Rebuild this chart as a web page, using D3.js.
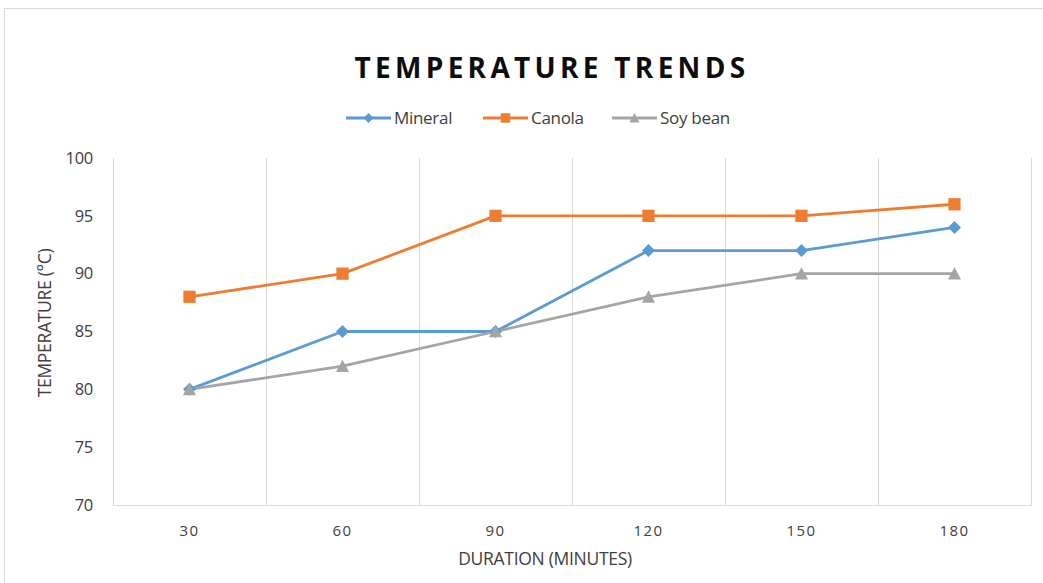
<!DOCTYPE html>
<html><head><meta charset="utf-8">
<script src="https://cdn.jsdelivr.net/npm/d3@7"></script>
<style>body{margin:0;background:#fff}svg{display:block}</style>
</head><body>
<script>
const categories = ["30","60","90","120","150","180"];
const mineral = [80,85,85,92,92,94];
const canola = [88,90,95,95,95,96];
const soybean = [80,82,85,88,90,90];
const yTicks = [70,75,80,85,90,95,100];
const seriesNames = ["Mineral","Canola","Soy bean"];
const seriesColors = ["#5B9BD5","#ED7D31","#A5A5A5"];
const seriesValues = [mineral, canola, soybean];

const diamond = {draw(ctx,size){const r=Math.sqrt(size)/2;ctx.moveTo(0,-r);ctx.lineTo(r,0);ctx.lineTo(0,r);ctx.lineTo(-r,0);ctx.closePath();}};
const triangle = {draw(ctx,size){const s=Math.sqrt(size);ctx.moveTo(0,-s*0.5);ctx.lineTo(s*0.5,s*0.45);ctx.lineTo(-s*0.5,s*0.45);ctx.closePath();}};
const seriesShapes = [diamond, d3.symbolSquare, triangle];

const W=1043,H=583;
const FONT="Open Sans, sans-serif";
const svg=d3.select("body").append("svg").attr("width",W).attr("height",H);
svg.append("rect").attr("x",4.5).attr("y",8.5).attr("width",W+10).attr("height",H+10).attr("fill","#fff").attr("stroke","#d9d9d9");

const m={l:113,r:1031,t:158,b:505};
const x=d3.scaleBand().domain(categories).range([m.l,m.r]);
const y=d3.scaleLinear().domain([70,100]).range([m.b,m.t]);

const edges=categories.map(c=>x(c)).concat([x(categories[categories.length-1])+x.bandwidth()]);
svg.append("g").selectAll("line").data(edges).join("line")
 .attr("x1",d=>Math.round(d)+0.5).attr("x2",d=>Math.round(d)+0.5)
 .attr("y1",m.t).attr("y2",m.b).attr("stroke","#d9d9d9").attr("stroke-width",1);
svg.append("line").attr("x1",m.l).attr("x2",m.r+1).attr("y1",m.b+0.5).attr("y2",m.b+0.5).attr("stroke","#d9d9d9");

const ya=svg.append("g").attr("transform",`translate(${m.l-20},0)`).call(d3.axisLeft(y).tickValues(yTicks).tickSize(0).tickPadding(0));
ya.select(".domain").remove();
ya.selectAll("text").attr("font-family",FONT).attr("font-size",16.5).attr("fill","#404040").attr("letter-spacing","-0.3px");

const xa=svg.append("g").attr("transform",`translate(0,${m.b+12})`).call(d3.axisBottom(x).tickSize(0).tickPadding(8));
xa.select(".domain").remove();
xa.selectAll("text").attr("font-family",FONT).attr("font-size",15).attr("fill","#404040").attr("letter-spacing","1.5px");

svg.append("text").attr("x",545).attr("y",565).attr("text-anchor","middle")
 .attr("font-family",FONT).attr("font-size",17.5).attr("fill","#404040").attr("letter-spacing","-0.3px").text("DURATION (MINUTES)");
svg.append("text").attr("transform",`translate(51,${323}) rotate(-90)`).attr("text-anchor","middle")
 .attr("font-family",FONT).attr("font-size",17.5).attr("fill","#404040").attr("letter-spacing","-0.3px").text("TEMPERATURE (°C)");

svg.append("text").attr("x",552).attr("y",78).attr("text-anchor","middle")
 .attr("font-family",FONT).attr("font-weight","bold").attr("font-size",28).attr("letter-spacing","4.3px").attr("fill","#0d0d0d").text("TEMPERATURE TRENDS");

const line=d3.line().x((d,i)=>x(categories[i])+x.bandwidth()/2).y(d=>y(d));
const symSizes=[170,150,170];
seriesValues.forEach((vals,si)=>{
  svg.append("path").datum(vals).attr("d",line).attr("fill","none").attr("stroke",seriesColors[si]).attr("stroke-width",2.8).attr("stroke-linejoin","round");
});
seriesValues.forEach((vals,si)=>{
  svg.append("g").selectAll("path").data(vals).join("path")
   .attr("transform",(d,i)=>`translate(${x(categories[i])+x.bandwidth()/2},${y(d)})`)
   .attr("d",d3.symbol().type(seriesShapes[si]).size(symSizes[si])).attr("fill",seriesColors[si]);
});

const legX=[346,483,612];
seriesNames.forEach((n,i)=>{
  const g=svg.append("g").attr("transform",`translate(${legX[i]},118)`);
  g.append("line").attr("x1",0).attr("x2",45).attr("stroke",seriesColors[i]).attr("stroke-width",2.8);
  g.append("path").attr("transform","translate(22.5,0)").attr("d",d3.symbol().type(seriesShapes[i]).size(symSizes[i]*0.6)).attr("fill",seriesColors[i]);
  g.append("text").attr("x",48).attr("y",6).attr("font-family",FONT).attr("font-size",17).attr("fill","#404040").attr("letter-spacing","-0.3px").text(n);
});
</script>
</body></html>
